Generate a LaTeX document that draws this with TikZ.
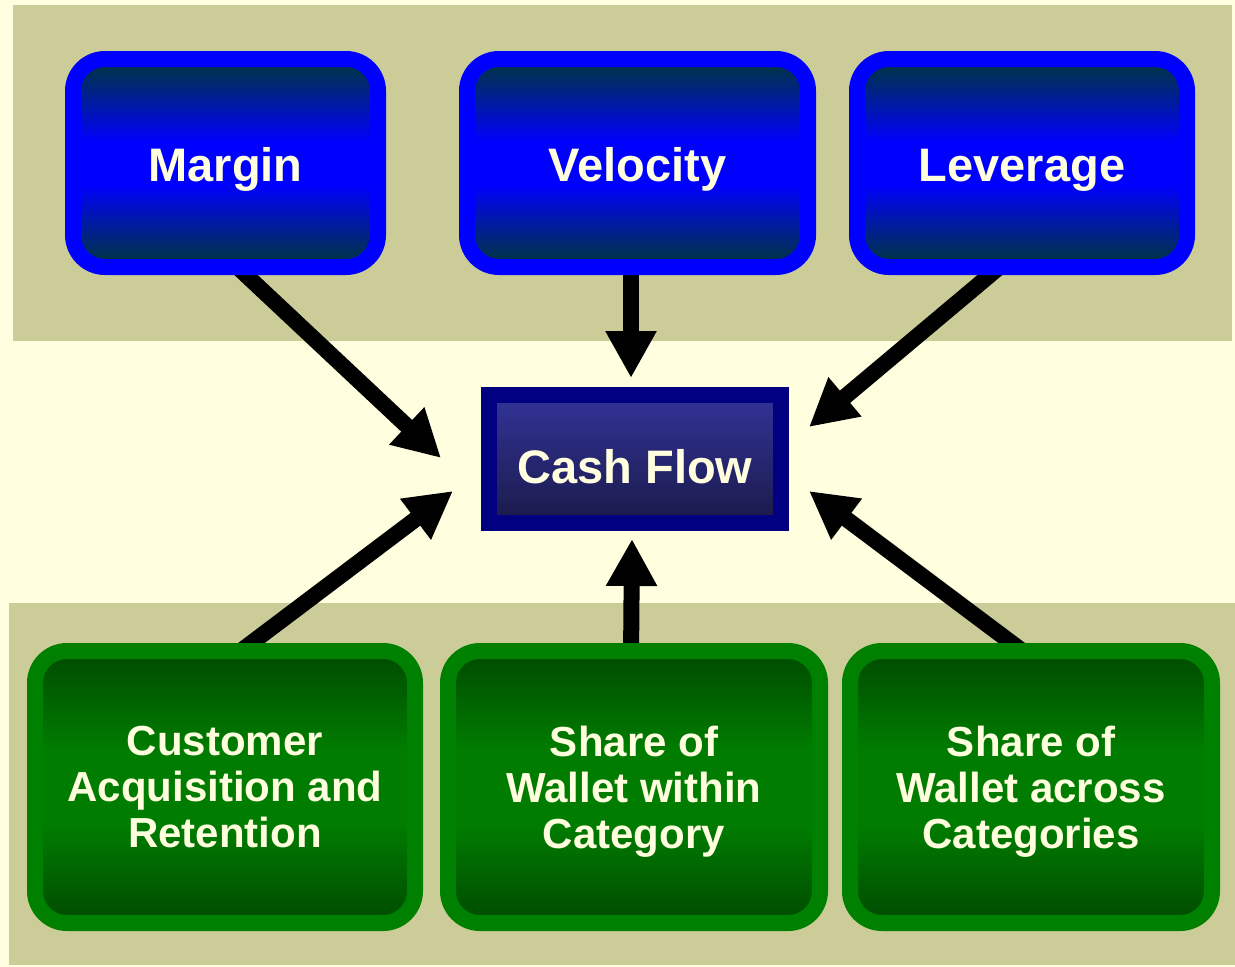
\documentclass[tikz,border=0pt]{standalone}
\usepackage{fontspec}
\setmainfont{Liberation Sans}
\usetikzlibrary{arrows.meta,calc}
\pgfdeclarelayer{back}
\pgfsetlayers{back,main}

\definecolor{paper}{HTML}{FFFFE0}
\definecolor{band}{HTML}{CCCC99}
\definecolor{blueedge}{HTML}{0000FF}
\definecolor{bluedark}{HTML}{003838}
\definecolor{bluemid}{HTML}{0000FF}
\definecolor{navyedge}{HTML}{000080}
\definecolor{navytop}{HTML}{333399}
\definecolor{navybot}{HTML}{1A1A4A}
\definecolor{greenedge}{HTML}{008000}
\definecolor{greendark}{HTML}{004A00}
\definecolor{greenmid}{HTML}{007C00}

% vertical fills: dark at the edges, full colour through the middle
\pgfdeclareverticalshading{bluefill}{100bp}{color(0bp)=(bluedark); color(25bp)=(bluedark);
  color(45bp)=(bluemid); color(55bp)=(bluemid); color(75bp)=(bluedark); color(100bp)=(bluedark)}
\pgfdeclareverticalshading{greenfill}{100bp}{color(0bp)=(greendark); color(25bp)=(greendark);
  color(43bp)=(greenmid); color(57bp)=(greenmid); color(75bp)=(greendark); color(100bp)=(greendark)}

\begin{document}
\begin{tikzpicture}[x=0.75pt,y=-0.75pt,
  bluebox/.style={draw=blueedge, line width=12pt, rounded corners=24pt,
    shade, shading=bluefill,
    text=paper, inner sep=0pt, minimum height=156pt,
    font=\bfseries\fontsize{35.25pt}{40pt}\selectfont,
    text height=27pt, text depth=0pt},
  cashbox/.style={draw=navyedge, line width=12pt,
    top color=navytop, bottom color=navybot,
    text=paper, inner sep=0pt, minimum width=219pt, minimum height=96pt,
    font=\bfseries\fontsize{35.25pt}{40pt}\selectfont,
    text height=36pt, text depth=0pt},
  greenbox/.style={draw=greenedge, line width=12pt, rounded corners=24pt,
    shade, shading=greenfill,
    text=paper, inner sep=0pt, minimum height=204pt, align=center,
    font=\bfseries\fontsize{31.5pt}{34.5pt}\selectfont},
  arr/.style={draw=black, line width=12pt, -{Triangle[length=35.25pt,width=36pt]}}
]
\useasboundingbox (0,0) rectangle (1235,967);

% drivers on top
\node[bluebox, minimum width=228.75pt] (margin)   at (225.5,163) {Margin};
\node[bluebox, minimum width=255.75pt] (velocity) at (637.5,163) {Velocity};
\node[bluebox, minimum width=247.5pt]  (leverage) at (1022,163)  {Leverage};

% central result
\node[cashbox] (cash) at (635,459) {Cash Flow};

% drivers below
\node[greenbox, minimum width=285pt] (custom) at (225,787)
  {Customer\\Acquisition and\\\smash{Retention}};
\node[greenbox, minimum width=279pt] (within) at (634,787)
  {Share of\\Wallet within\\\smash{Category}};
\node[greenbox, minimum width=271.5pt] (across) at (1031,787)
  {Share of\\Wallet across\\\smash{Categories}};

% arrow tips around the central box
\coordinate (tipM) at ($(cash.center)+(-194,-1)$);
\coordinate (tipV) at ($(cash.center)+(-4,-81)$);
\coordinate (tipL) at ($(cash.center)+(174,-32)$);
\coordinate (tipC) at ($(cash.center)+(-182,32)$);
\coordinate (tipW) at ($(cash.center)+(-3,80)$);
\coordinate (tipA) at ($(cash.center)+(174,32)$);

\begin{pgfonlayer}{back}
  \fill[paper] (0,0) rectangle (1235,967);
  \fill[band] (13,5) rectangle (1232,341);
  \fill[band] (9,603) rectangle (1235,965);

  \draw[arr] ($(margin.center)+(5.9,98.3)$)    -- (tipM);
  \draw[arr] ($(velocity.center)+(-6.5,97)$)   -- (tipV);
  \draw[arr] ($(leverage.center)+(-16.7,99.1)$) -- (tipL);
  \draw[arr] ($(custom.center)+(10.5,-132)$)   -- (tipC);
  \draw[arr] ($(within.center)+(-3,-127)$)     -- (tipW);
  \draw[arr] ($(across.center)+(-3.3,-132)$)   -- (tipA);
\end{pgfonlayer}
\end{tikzpicture}
\end{document}
